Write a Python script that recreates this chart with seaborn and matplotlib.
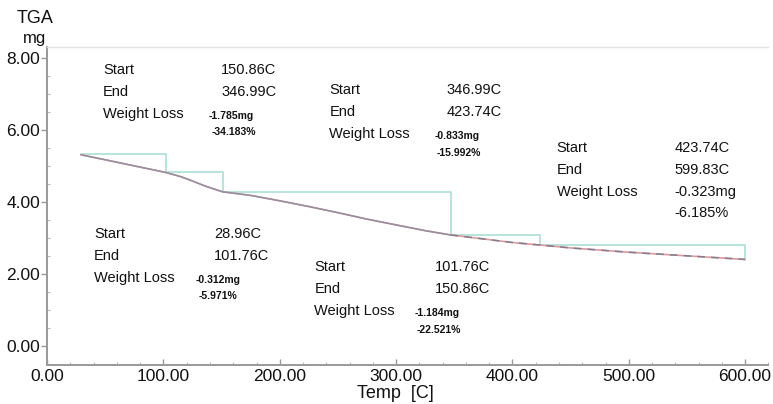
import matplotlib
matplotlib.use("Agg")
import numpy as np
import pandas as pd
import seaborn as sns
import matplotlib.pyplot as plt
from matplotlib.ticker import MultipleLocator, FormatStrFormatter

# TGA mass curve
temp_c = [28.96, 50, 75, 101.76, 115, 125, 135, 150.86, 175, 200, 225, 250,
          275, 300, 325, 346.99, 375, 400, 423.74, 450, 500, 550, 599.83]
mass_mg = [5.31, 5.17, 5.00, 4.82, 4.70, 4.58, 4.45, 4.28, 4.18, 4.03, 3.87, 3.70,
           3.52, 3.36, 3.20, 3.08, 2.97, 2.87, 2.80, 2.72, 2.60, 2.50, 2.40]

# Weight-loss steps
step_start_c = [28.96, 101.76, 150.86, 346.99, 423.74]
step_end_c = [101.76, 150.86, 346.99, 423.74, 599.83]
step_loss_mg = [-0.312, -1.184, -1.785, -0.833, -0.323]
step_loss_pct = [-5.971, -22.521, -34.183, -15.992, -6.185]
step_level_mg = [5.32, 4.83, 4.28, 3.07, 2.79, 2.39]

x_ticks = [0, 100, 200, 300, 400, 500, 600]
y_ticks = [0, 2, 4, 6, 8]

sns.set_theme(style="white")
plt.rcParams["font.family"] = ["Liberation Sans", "DejaVu Sans"]

fig = plt.figure(figsize=(7.73, 4.04), dpi=100)
ax = fig.add_axes([0.061, 0.097, 0.933, 0.787])

curve = pd.DataFrame({"T": temp_c, "m": mass_mg})
sns.lineplot(data=curve, x="T", y="m", ax=ax, color="#e09a9c", lw=1.2,
             sort=False, estimator=None)
sns.lineplot(data=curve[curve["T"] <= 350], x="T", y="m", ax=ax,
             color="#938ea2", lw=1.1, sort=False, estimator=None)
sns.lineplot(data=curve[curve["T"] >= 346], x="T", y="m", ax=ax,
             color="#807d8e", lw=1.1, sort=False, estimator=None,
             dashes=False, linestyle=(0, (5, 4)))

# step outline: horizontal at the mass at the start of each interval,
# then a drop to the mass at its end
sx, sy = [], []
for i, (t0, t1) in enumerate(zip(step_start_c, step_end_c)):
    sx += [t0, t1, t1]
    sy += [step_level_mg[i], step_level_mg[i], step_level_mg[i + 1]]
steps = pd.DataFrame({"T": sx, "m": sy})
sns.lineplot(data=steps, x="T", y="m", ax=ax, color="#acdfd6", lw=1.2,
             sort=False, estimator=None, zorder=1)

# annotation blocks, one per interval
blocks = [
    dict(lx=40.4, vx=143.7, sx=128.0, y=3.11, small=True),
    dict(lx=229.8, vx=333.0, sx=316.0, y=2.19, small=True),
    dict(lx=48.2, vx=149.7, sx=139.0, y=7.67, small=True),
    dict(lx=242.7, vx=343.4, sx=333.0, y=7.11, small=True),
    dict(lx=438.0, vx=539.6, sx=539.6, y=5.50, small=False),
]
row = 0.61
txt = dict(color="#111111", va="center", ha="left")
for i, b in enumerate(blocks):
    y0 = b["y"]
    ax.text(b["lx"], y0, "Start", fontsize=10.5, **txt)
    ax.text(b["lx"], y0 - row, "End", fontsize=10.5, **txt)
    ax.text(b["lx"], y0 - 2 * row, "Weight Loss", fontsize=10.5, **txt)
    ax.text(b["vx"], y0, f"{step_start_c[i]:.2f}C", fontsize=10.5, **txt)
    ax.text(b["vx"], y0 - row, f"{step_end_c[i]:.2f}C", fontsize=10.5, **txt)
    if b["small"]:
        ax.text(b["sx"], y0 - 2 * row - 0.07, f"{step_loss_mg[i]:.3f}mg",
                fontsize=7.5, fontweight="bold", **txt)
        ax.text(b["sx"] + 2, y0 - 2 * row - 0.52, f"{step_loss_pct[i]:.3f}%",
                fontsize=7.5, fontweight="bold", **txt)
    else:
        ax.text(b["sx"], y0 - 2 * row, f"{step_loss_mg[i]:.3f}mg",
                fontsize=10.5, **txt)
        ax.text(b["sx"], y0 - 2 * row - 0.58, f"{step_loss_pct[i]:.3f}%",
                fontsize=10.5, **txt)

ax.set_xlim(0, 620)
ax.set_ylim(-0.53, 8.31)
ax.set_xticks(x_ticks)
ax.set_yticks(y_ticks)
ax.xaxis.set_major_formatter(FormatStrFormatter("%.2f"))
ax.yaxis.set_major_formatter(FormatStrFormatter("%.2f"))
ax.xaxis.set_minor_locator(MultipleLocator(20))
ax.yaxis.set_minor_locator(MultipleLocator(0.5))
ax.tick_params(axis="x", which="major", direction="in", length=4, width=1,
               color="#999999", labelsize=12.5, pad=3, bottom=True)
ax.tick_params(axis="x", which="minor", direction="in", length=2, width=0.8,
               color="#bbbbbb", bottom=True)
ax.tick_params(axis="y", which="major", direction="out", length=4, width=1,
               color="#999999", labelsize=12.5, pad=1, left=True)
ax.tick_params(axis="y", which="minor", direction="in", length=2, width=0.8,
               color="#bbbbbb", left=True)
for lab in ax.get_xticklabels() + ax.get_yticklabels():
    lab.set_color("#111111")

for side in ("left", "bottom"):
    ax.spines[side].set_color("#999999")
    ax.spines[side].set_linewidth(1.4)
ax.spines["top"].set_color("#e4e4e4")
ax.spines["top"].set_linewidth(1.0)
ax.spines["right"].set_visible(False)

ax.set_xlabel("")
ax.set_ylabel("")
fig.text(0.045, 0.955, "TGA", fontsize=13, ha="center", va="center", color="#111111")
fig.text(0.045, 0.905, "mg", fontsize=12, ha="center", va="center", color="#111111")
fig.text(0.512, 0.025, "Temp  [C]", fontsize=13, ha="center", va="center", color="#111111")

fig.savefig("out.png", dpi=100)
